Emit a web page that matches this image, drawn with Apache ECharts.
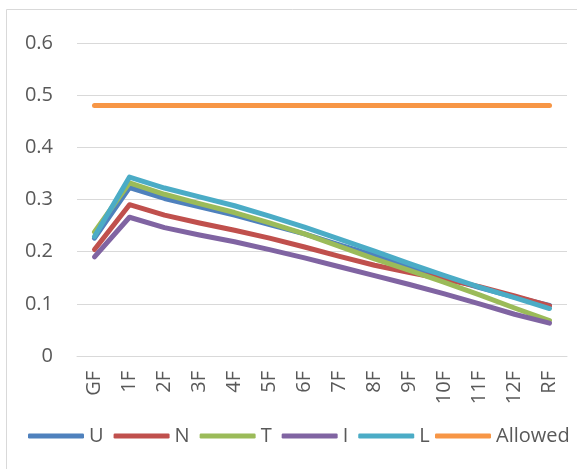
<!DOCTYPE html>
<html>
<head>
<meta charset="utf-8">
<script src="https://cdn.jsdelivr.net/npm/echarts@6/dist/echarts.min.js"></script>
<style>
  html, body { margin: 0; padding: 0; background: #fff; }
  #chart { width: 577px; height: 469px; }
</style>
</head>
<body>
<div id="chart"></div>
<script>
// Floor levels along the x-axis
const floors = ['GF', '1F', '2F', '3F', '4F', '5F', '6F', '7F', '8F', '9F', '10F', '11F', '12F', 'RF'];

// Drift values per floor for each case
const seriesU = [0.226, 0.323, 0.302, 0.286, 0.270, 0.252, 0.234, 0.213, 0.193, 0.172, 0.151, 0.131, 0.113, 0.097];
const seriesN = [0.204, 0.290, 0.270, 0.255, 0.241, 0.226, 0.209, 0.191, 0.174, 0.160, 0.147, 0.133, 0.115, 0.096];
const seriesT = [0.238, 0.332, 0.310, 0.292, 0.275, 0.255, 0.234, 0.210, 0.186, 0.164, 0.141, 0.117, 0.092, 0.068];
const seriesI = [0.190, 0.266, 0.246, 0.232, 0.219, 0.204, 0.188, 0.171, 0.154, 0.137, 0.119, 0.100, 0.080, 0.063];
const seriesL = [0.229, 0.343, 0.322, 0.305, 0.288, 0.268, 0.247, 0.224, 0.201, 0.177, 0.154, 0.132, 0.112, 0.091];
const allowed = [0.48, 0.48, 0.48, 0.48, 0.48, 0.48, 0.48, 0.48, 0.48, 0.48, 0.48, 0.48, 0.48, 0.48];

const yTicks = { min: 0, max: 0.6, interval: 0.1 };

const names = ['U', 'N', 'T', 'I', 'L', 'Allowed'];
const values = [seriesU, seriesN, seriesT, seriesI, seriesL, allowed];
const colors = ['#4F81BD', '#C0504D', '#9BBB59', '#8064A2', '#4BACC6', '#F79646'];

const FONT = '"Open Sans", sans-serif';
const TEXT = '#595959';

const legendBase = {
  top: 426,
  padding: 0,
  icon: 'roundRect',
  itemWidth: 56,
  itemHeight: 5,
  itemGap: 10,
  textStyle: { color: TEXT, fontSize: 20, fontFamily: FONT }
};

const chart = echarts.init(document.getElementById('chart'), null, { renderer: 'canvas' });

chart.setOption({
  animation: false,
  backgroundColor: '#fff',
  color: colors,
  graphic: [{
    type: 'rect',
    shape: { x: 6.5, y: 9.5, width: 575, height: 470 },
    style: { fill: 'none', stroke: '#D9D9D9', lineWidth: 1 },
    silent: true
  }],
  grid: { left: 77, right: 10, top: 43, bottom: 113, containLabel: false },
  // one row of keys: the five cases, then the allowable limit
  legend: [
    Object.assign({}, legendBase, { data: names.slice(0, 5), left: 28 }),
    Object.assign({}, legendBase, { data: names.slice(5), left: 435 })
  ],
  xAxis: {
    type: 'category',
    data: floors,
    boundaryGap: true,
    axisLine: { show: true, lineStyle: { color: '#D9D9D9', width: 1 } },
    axisTick: { show: false },
    axisLabel: { rotate: 90, color: TEXT, fontSize: 20, fontFamily: FONT, margin: 15, interval: 0 }
  },
  yAxis: {
    type: 'value',
    min: yTicks.min,
    max: yTicks.max,
    interval: yTicks.interval,
    axisLine: { show: false },
    axisTick: { show: false },
    splitLine: { lineStyle: { color: '#D9D9D9', width: 1 } },
    axisLabel: { color: TEXT, fontSize: 20, fontFamily: FONT, margin: 24, formatter: v => String(Math.round(v * 10) / 10) }
  },
  series: names.map((n, i) => ({
    name: n,
    type: 'line',
    data: values[i],
    symbol: 'none',
    smooth: false,
    lineStyle: { width: 5, color: colors[i], cap: 'round', join: 'round' },
    itemStyle: { color: colors[i] }
  }))
});
</script>
</body>
</html>
